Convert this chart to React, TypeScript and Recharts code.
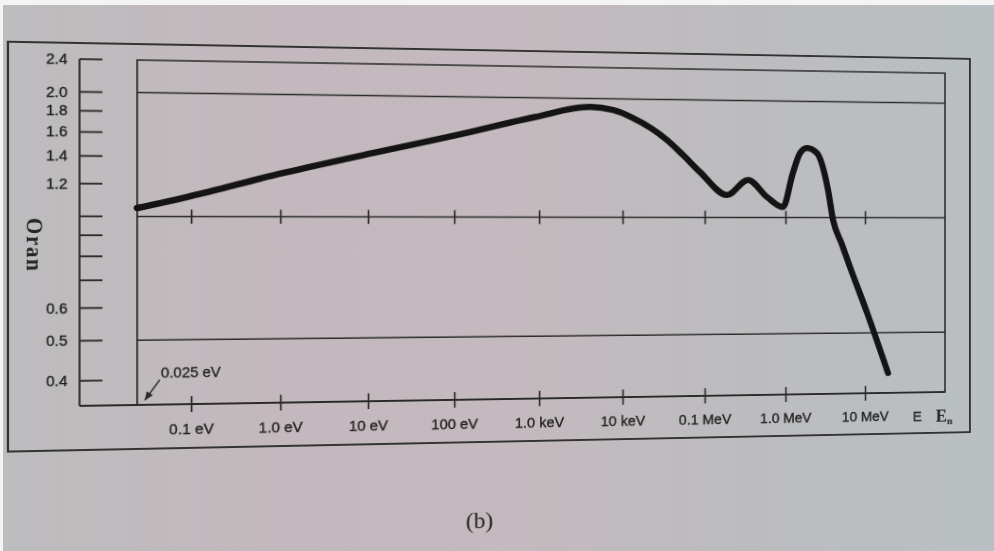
import { LineChart, Line, XAxis, YAxis, ReferenceLine, ReferenceArea } from "recharts";

// response ratio vs. neutron energy (eV)
const energies = [
  0.025, 0.089, 1.06, 11.3, 101, 883, 4000, 7570, 13200, 34200, 53600, 86500,
  186000, 338000, 582000, 918000, 1.22e6, 1.5e6, 1.83e6, 2.44e6, 3.37e6, 3.9e6, 4.99e6, 6.38e6, 1.05e7, 1.94e7,
];
const ratios = [
  1.048, 1.116, 1.281, 1.441, 1.6, 1.789, 1.904, 1.874, 1.79, 1.576, 1.444, 1.307,
  1.142, 1.249, 1.129, 1.064, 1.303, 1.469, 1.515, 1.47, 1.179, 0.985, 0.856, 0.743, 0.564, 0.392,
];

const xTicks = [0.1, 1, 10, 100, 1e3, 1e4, 1e5, 1e6, 1e7];
const xTickLabels = ["0.1 eV", "1.0 eV", "10 eV", "100 eV", "1.0 keV", "10 keV", "0.1 MeV", "1.0 MeV", "10 MeV"];
const yTicks = [0.4, 0.5, 0.6, 0.7, 0.8, 0.9, 1.0, 1.2, 1.4, 1.6, 1.8, 2.0, 2.4];
const yTickLabels = ["0.4", "0.5", "0.6", "", "", "", "", "1.2", "1.4", "1.6", "1.8", "2.0", "2.4"];
const levels = [2.0, 1.0, 0.5];
const thermal = 0.025;

const X_MIN = 0.005847;
const X_MAX = 1.04e8;
const Y_MIN = 0.348;
const Y_MAX = 2.4;

const data = energies.map((e, i) => ({ energy: e, ratio: ratios[i] }));

const INK = "#2a2a2a";
const SANS = "'Liberation Sans', Arial, sans-serif";
const SERIF = "'Liberation Serif', 'Times New Roman', serif";

// the printed page is photographed at a slight angle
const TILT = "matrix3d(1.09602, 0.023724, 0, 0.0001016, 0, 1, 0, 0, 0, 0, 1, 0, -12.96, -3.2027, 0, 0.98628)";

const XTick = ({ x, y, payload }: any) => {
  const i = xTicks.indexOf(payload.value);
  return (
    <g>
      <line x1={x} x2={x} y1={y - 8} y2={y + 8} stroke={INK} strokeWidth={1.6} />
      <text
        x={x}
        y={y + 30}
        textAnchor="middle"
        fontFamily={SANS}
        fontSize={14.5}
        fill="#222"
        stroke="#222"
        strokeWidth={0.35}
      >
        {xTickLabels[i]}
      </text>
    </g>
  );
};

const YTick = ({ x, y, payload }: any) => {
  const i = yTicks.indexOf(payload.value);
  return (
    <g>
      <line x1={x} x2={x + 21} y1={y} y2={y} stroke={INK} strokeWidth={1.8} />
      <text
        x={x - 11}
        y={y}
        dy="0.36em"
        textAnchor="end"
        fontFamily={SANS}
        fontSize={14}
        fill="#222"
        stroke="#222"
        strokeWidth={0.35}
      >
        {yTickLabels[i]}
      </text>
    </g>
  );
};

// arrow pointing at the thermal energy, with its label
const ThermalArrow = ({ x1, y1, x2, y2 }: any) => {
  const a = Math.atan2(y2 - y1, x2 - x1);
  const s = 9;
  const p1 = `${x2 - s * Math.cos(a - 0.4)},${y2 - s * Math.sin(a - 0.4)}`;
  const p2 = `${x2 - s * Math.cos(a + 0.4)},${y2 - s * Math.sin(a + 0.4)}`;
  return (
    <g>
      <line x1={x1} y1={y1} x2={x2} y2={y2} stroke={INK} strokeWidth={1.4} />
      <polygon points={`${x2},${y2} ${p1} ${p2}`} fill={INK} />
      <text x={x1 + 1} y={y1 - 2} fontFamily={SANS} fontSize={14} fill="#222" stroke="#222" strokeWidth={0.3}>
        0.025 eV
      </text>
    </g>
  );
};

export default function App() {
  return (
    <div
      style={{
        position: "fixed",
        left: 0,
        top: 0,
        width: 994,
        height: 551,
        overflow: "hidden",
        background: "linear-gradient(90deg, #bdbcbe 0%, #c3b8bd 30%, #c4b9be 50%, #bcbcbf 75%, #b9bfc2 100%)",
      }}
    >
      <div style={{ position: "absolute", left: 0, top: 0, width: 994, height: 5, background: "#f4f4f4" }} />
      <div style={{ position: "absolute", left: 0, top: 0, width: 3, height: 551, background: "#f4f4f4" }} />

      <div
        style={{
          position: "absolute",
          left: 0,
          top: 0,
          width: 994,
          height: 551,
          transform: TILT,
          transformOrigin: "0 0",
        }}
      >
        <LineChart width={994} height={551} data={data} margin={{ top: 60, right: 49, bottom: 106, left: 0 }}>
          <XAxis
            dataKey="energy"
            type="number"
            scale="log"
            domain={[X_MIN, X_MAX]}
            allowDataOverflow
            ticks={xTicks}
            interval={0}
            tickSize={0}
            tickMargin={0}
            tickLine={false}
            tick={<XTick />}
            height={40}
            axisLine={{ stroke: INK, strokeWidth: 1.8 }}
          />
          <YAxis
            type="number"
            scale="log"
            domain={[Y_MIN, Y_MAX]}
            allowDataOverflow
            ticks={yTicks}
            interval={0}
            tickSize={0}
            tickMargin={0}
            tickLine={false}
            tick={<YTick />}
            width={84}
            axisLine={{ stroke: INK, strokeWidth: 1.8 }}
          />

          {/* plot frame */}
          <ReferenceArea
            x1={thermal}
            x2={X_MAX}
            y1={Y_MIN}
            y2={Y_MAX}
            fill="none"
            stroke={INK}
            strokeWidth={1.6}
            fillOpacity={0}
          />

          {levels.map((v) => (
            <ReferenceLine
              key={v}
              segment={[
                { x: thermal, y: v },
                { x: X_MAX, y: v },
              ]}
              stroke={INK}
              strokeWidth={1.5}
            />
          ))}

          {/* tick marks repeated on the unity line */}
          {xTicks.map((t) => (
            <ReferenceLine
              key={`m${t}`}
              segment={[
                { x: t, y: 0.96 },
                { x: t, y: 1.04 },
              ]}
              stroke={INK}
              strokeWidth={1.6}
            />
          ))}

          <ReferenceLine
            segment={[
              { x: 0.0444, y: 0.4 },
              { x: 0.0303, y: 0.357 },
            ]}
            shape={(p: any) => <ThermalArrow {...p} />}
          />

          <Line
            type="monotone"
            dataKey="ratio"
            stroke="#141414"
            strokeWidth={6.5}
            strokeLinecap="round"
            strokeLinejoin="round"
            dot={false}
            isAnimationActive={false}
          />
        </LineChart>

        <svg
          width={994}
          height={551}
          style={{ position: "absolute", left: 0, top: 0, pointerEvents: "none" }}
        >
          <rect x={19} y={44} width={953} height={405} fill="none" stroke="#333" strokeWidth={2} />
          <text
            x={43.5}
            y={245}
            transform="rotate(90 43.5 245)"
            textAnchor="middle"
            dy="0.35em"
            fontFamily={SERIF}
            fontWeight="bold"
            fontSize={21}
            letterSpacing={1.5}
            fill="#262626"
          >
            Oran
          </text>
          <text x={915} y={436} textAnchor="middle" fontFamily={SANS} fontSize={14.5} fill="#222" stroke="#222" strokeWidth={0.35}>
            E
          </text>
          <text x={944} y={437} textAnchor="middle" fontFamily={SERIF} fontWeight="bold" fontSize={18} fill="#222">
            E<tspan fontSize={11} dy={3}>n</tspan>
          </text>
          <text x={464} y={530} textAnchor="middle" dy="0.35em" fontFamily={SERIF} fontSize={23} fill="#1e1e1e">
            (b)
          </text>
        </svg>
      </div>
    </div>
  );
}
